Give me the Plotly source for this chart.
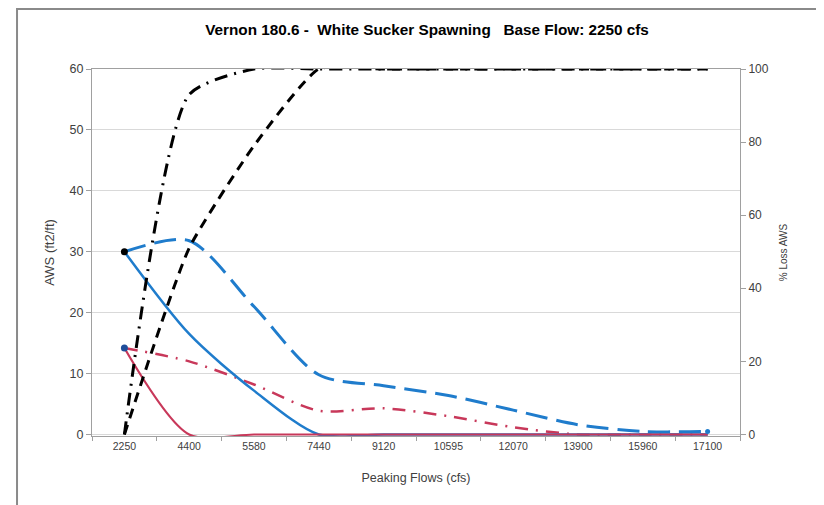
import plotly.graph_objects as go

flows = ["2250", "4400", "5580", "7440", "9120", "10595", "12070", "13900", "15960", "17100"]

aws_blue_solid = [30, 16.5, 7.2, 0, 0, 0, 0, 0, 0, 0]
aws_red_solid = [14.2, 0, 0, 0, 0, 0, 0, 0, 0, 0]
aws_blue_dash = [30, 31.8, 21, 9.8, 8.0, 6.4, 4.0, 1.6, 0.5, 0.5]
aws_red_dashdot = [14.2, 12, 8.2, 3.9, 4.3, 3.0, 1.2, 0, 0, 0]
loss_black_dashdot = [0, 93, 100, 100, 100, 100, 100, 100, 100, 100]
loss_black_dash = [0, 51, 79, 100, 100, 100, 100, 100, 100, 100]

BLUE = "#1f7ccc"
RED = "#c8385a"
FONT = "Liberation Sans, Arial, sans-serif"
PAD = 0.25  # small pad below zero so flat lines at 0 stay visible

fig = go.Figure()

fig.add_trace(go.Scatter(x=flows, y=loss_black_dashdot, yaxis="y2", mode="lines",
                         line=dict(color="black", width=3, dash="13px,7px,2px,7px",
                                   shape="spline", smoothing=0.6)))
fig.add_trace(go.Scatter(x=flows, y=loss_black_dash, yaxis="y2", mode="lines",
                         line=dict(color="black", width=3, dash="10px,7px",
                                   shape="spline", smoothing=0.5)))
fig.add_trace(go.Scatter(x=flows, y=aws_blue_dash, mode="lines",
                         line=dict(color=BLUE, width=3, dash="22px,9px",
                                   shape="spline", smoothing=0.8)))
fig.add_trace(go.Scatter(x=flows, y=aws_red_dashdot, mode="lines",
                         line=dict(color=RED, width=2.5, dash="13px,8px,2px,8px",
                                   shape="spline", smoothing=0.8)))
fig.add_trace(go.Scatter(x=flows, y=aws_blue_solid, mode="lines",
                         line=dict(color=BLUE, width=2.5, shape="spline", smoothing=0.8)))
fig.add_trace(go.Scatter(x=flows, y=aws_red_solid, mode="lines",
                         line=dict(color=RED, width=2.2, shape="spline", smoothing=0.8)))
# start / end markers
fig.add_trace(go.Scatter(x=flows[:1], y=aws_blue_solid[:1], mode="markers",
                         marker=dict(color="black", size=7)))
fig.add_trace(go.Scatter(x=flows[:1], y=aws_red_solid[:1], mode="markers",
                         marker=dict(color="#1f4e9a", size=7)))
fig.add_trace(go.Scatter(x=flows[-1:], y=aws_blue_dash[-1:], mode="markers",
                         marker=dict(color=BLUE, size=5)))

fig.update_layout(
    width=816, height=497,
    margin=dict(l=84, r=84, t=61, b=69, autoexpand=False),
    paper_bgcolor="white", plot_bgcolor="white",
    showlegend=False,
    font=dict(family=FONT, size=11, color="#404040"),
    title=dict(text="<b>Vernon 180.6 -  White Sucker Spawning   Base Flow: 2250 cfs</b>",
               x=0.5135, xanchor="center", y=0.956, yanchor="middle",
               font=dict(family=FONT, size=15.3, color="black"), automargin=False),
    xaxis=dict(type="category", range=[-0.5, len(flows) - 0.5], showgrid=False,
               showline=True, linecolor="#a0a0a0",
               ticks="outside", ticklen=4, tickcolor="#a0a0a0", tickson="boundaries",
               mirror=True, tickfont=dict(size=10.5), automargin=False, layer="below traces",
               title=dict(text="Peaking Flows (cfs)", font=dict(size=12.5), standoff=22)),
    yaxis=dict(range=[-PAD, 60], tick0=0, dtick=10, showgrid=True, gridcolor="#d9d9d9",
               showline=True, linecolor="#a0a0a0", ticks="outside", ticklen=5,
               tickcolor="#a0a0a0", zeroline=False, tickfont=dict(size=12.5),
               automargin=False, layer="below traces",
               title=dict(text="AWS (ft2/ft)", font=dict(size=13), standoff=12)),
    yaxis2=dict(range=[-PAD * 100 / 60, 100], tick0=0, dtick=20, overlaying="y", side="right",
                showgrid=False, showline=True, linecolor="#a0a0a0", ticks="outside", ticklen=5,
                tickcolor="#a0a0a0", zeroline=False, tickfont=dict(size=12),
                automargin=False, layer="below traces",
                title=dict(text="% Loss AWS", font=dict(size=10), standoff=12)),
    shapes=[dict(type="rect", xref="paper", yref="paper",
                 x0=-0.1157, x1=1.15, y0=-0.2, y1=1.1635,
                 line=dict(color="#8a8a8a", width=2), layer="below")],
)

fig.write_html("out.html")
